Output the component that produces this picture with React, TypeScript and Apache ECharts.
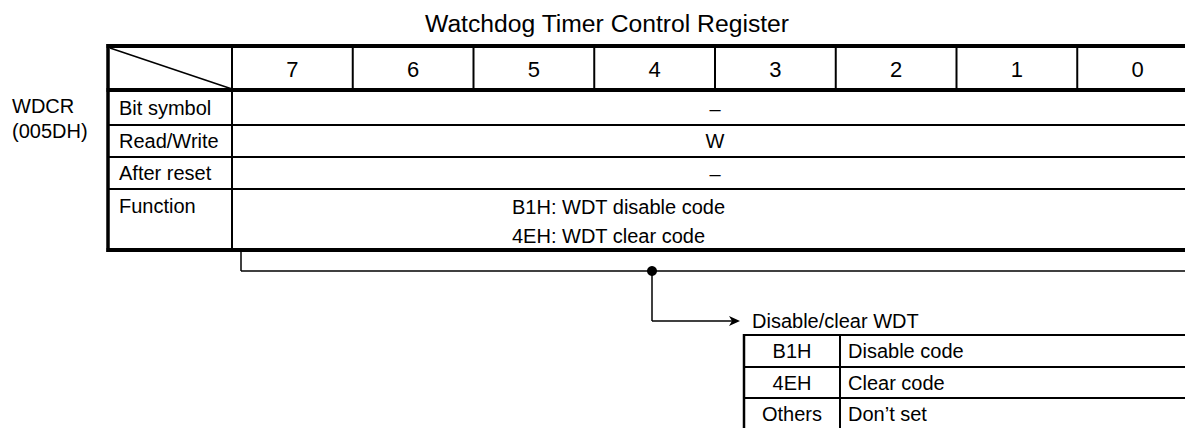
import React, { useEffect, useRef } from "react";
import * as echarts from "echarts";

// ---- content ----
const title = "Watchdog Timer Control Register";
const registerName = ["WDCR", "(005DH)"];
const bitLabels = ["7", "6", "5", "4", "3", "2", "1", "0"];
const rowLabels = ["Bit symbol", "Read/Write", "After reset", "Function"];
const rowValues = ["–", "W", "–"];
const functionLines = ["B1H: WDT disable code", "4EH: WDT clear code"];
const branchLabel = "Disable/clear WDT";
const codeKeys = ["B1H", "4EH", "Others"];
const codeMeanings = ["Disable code", "Clear code", "Don’t set"];

// ---- layout ----
const W = 1185;
const H = 428;
const FONT = "'Liberation Sans', Arial, Helvetica, sans-serif";
const tableLeft = 108;
const labelRight = 232;
const colW = 120.75;
const rowYs = [46, 90, 125, 157, 189, 250]; // top, header bottom, row bottoms
const thick = 4;
const thin = 2;

function txt(text: string, x: number, y: number, size: number, align = "left") {
  return {
    type: "text",
    silent: true,
    style: {
      text,
      x,
      y,
      font: `${size}px ${FONT}`,
      fill: "#000",
      textAlign: align,
      textVerticalAlign: "middle",
    },
  };
}

function ln(x1: number, y1: number, x2: number, y2: number, w: number, color = "#000") {
  return {
    type: "line",
    silent: true,
    shape: { x1, y1, x2, y2 },
    style: { stroke: color, lineWidth: w },
  };
}

function buildGraphics() {
  const els: any[] = [];
  const right = W + 10;
  const tableTop = rowYs[0];
  const headerBottom = rowYs[1];
  const tableBottom = rowYs[rowYs.length - 1];

  // title
  els.push(txt(title, 425, 23, 24.7));

  // register name
  els.push(txt(registerName[0], 12, 106, 20));
  els.push(txt(registerName[1], 12, 131, 20));

  // vertical lines
  els.push(ln(labelRight, tableTop, labelRight, tableBottom, thin));
  for (let i = 1; i < bitLabels.length; i++) {
    const x = labelRight + colW * i;
    els.push(ln(x, tableTop, x, headerBottom, thin));
  }
  // horizontal thin lines
  for (let i = 2; i < rowYs.length - 1; i++) {
    els.push(ln(tableLeft, rowYs[i], right, rowYs[i], thin));
  }
  // thick lines
  els.push(ln(tableLeft - 1.5, tableTop, right, tableTop, thick));
  els.push(ln(tableLeft - 1.5, headerBottom, right, headerBottom, thick));
  els.push(ln(tableLeft - 1.5, tableBottom, right, tableBottom, thick));
  els.push(ln(tableLeft, tableTop - 2, tableLeft, tableBottom + 2, 3.5));
  // diagonal
  els.push(ln(tableLeft + 2, tableTop + 2, labelRight, headerBottom - 1, 1.6));

  // header digits
  bitLabels.forEach((b, i) => {
    els.push(txt(b, labelRight + colW * (i + 0.5), (tableTop + headerBottom) / 2 + 1, 22, "center"));
  });

  const valueCenterX = labelRight + (colW * bitLabels.length) / 2;
  // row labels and values
  rowLabels.forEach((r, i) => {
    const top = rowYs[i + 1];
    const bottom = rowYs[i + 2];
    const cy = i < 3 ? (top + bottom) / 2 : top + 17;
    els.push(txt(r, 119, cy, 20));
    if (i < rowValues.length) {
      els.push(txt(rowValues[i], valueCenterX, cy + (rowValues[i] === "W" ? 0 : 1), 20, "center"));
    }
  });
  functionLines.forEach((f, i) => {
    els.push(txt(f, 512, 207 + i * 29, 20));
  });

  // bracket under table
  const busY = 271;
  els.push(ln(241, tableBottom + 1, 241, busY, 1.5));
  els.push(ln(241, busY, right, busY, 1.5));
  const dotX = 652;
  els.push({
    type: "circle",
    silent: true,
    shape: { cx: dotX, cy: busY, r: 5 },
    style: { fill: "#000" },
  });
  const arrowY = 321;
  els.push(ln(dotX, busY, dotX, arrowY, 1.5));
  els.push(ln(dotX, arrowY, 732, arrowY, 1.5));
  els.push({
    type: "polygon",
    silent: true,
    shape: {
      points: [
        [740, arrowY],
        [729, arrowY - 5],
        [732, arrowY],
        [729, arrowY + 5],
      ],
    },
    style: { fill: "#000" },
  });
  els.push(txt(branchLabel, 752, arrowY, 20));

  // code table
  const ctLeft = 744;
  const ctDiv = 840;
  const ctRows = [335, 367, 398, 430];
  for (let i = 0; i < ctRows.length; i++) {
    els.push(ln(ctLeft - 1, ctRows[i], right, ctRows[i], thin));
  }
  els.push(ln(ctLeft, ctRows[0] - 1, ctLeft, H + 2, thin + 0.5));
  els.push(ln(ctDiv, ctRows[0], ctDiv, H + 2, thin));
  codeKeys.forEach((k, i) => {
    const cy = (ctRows[i] + ctRows[i + 1]) / 2;
    els.push(txt(k, (ctLeft + ctDiv) / 2, cy, 20, "center"));
    els.push(txt(codeMeanings[i], 848, cy, 20));
  });

  return els;
}

export default function App() {
  const ref = useRef<HTMLDivElement>(null);
  useEffect(() => {
    document.body.style.margin = "0";
    if (!ref.current) return;
    const chart = echarts.init(ref.current, undefined, { renderer: "svg" });
    chart.setOption({
      animation: false,
      backgroundColor: "#fff",
      graphic: { elements: buildGraphics() },
    });
    return () => chart.dispose();
  }, []);
  return <div ref={ref} style={{ width: W, height: H }} />;
}
